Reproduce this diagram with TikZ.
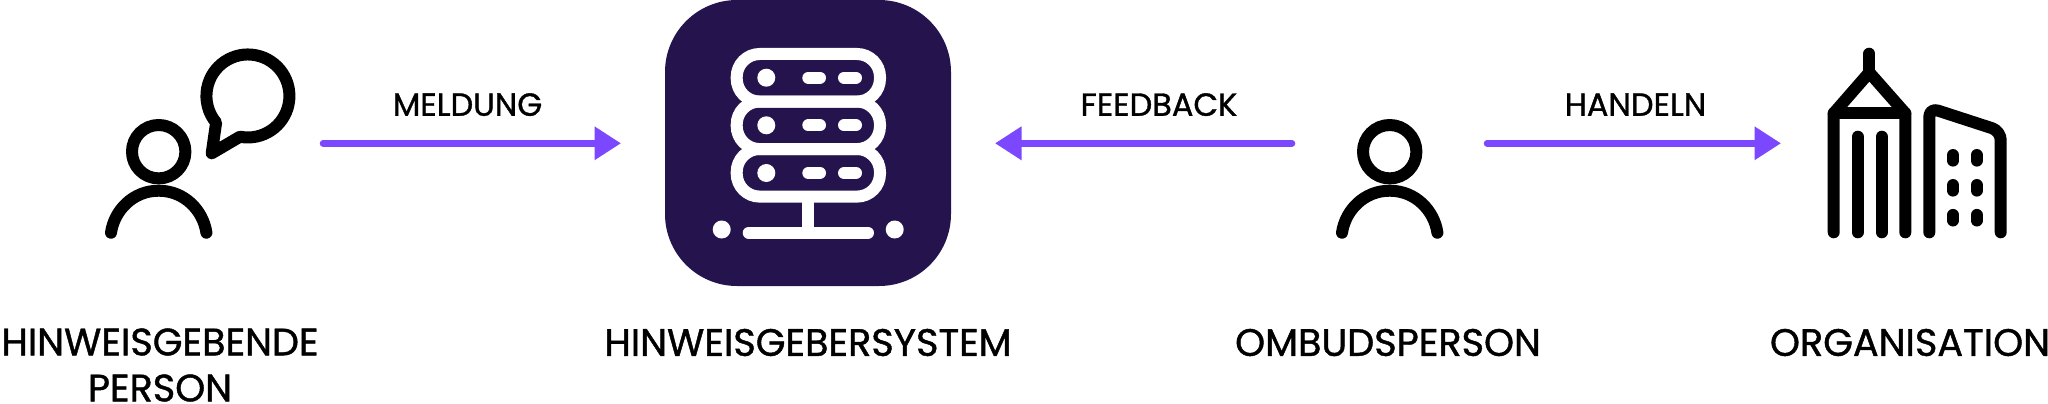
\documentclass[tikz,border=0pt]{standalone}
\usepackage{fontspec}
\setmainfont{Poppins}
\newfontfamily\etikett{Poppins}[FakeBold=1.1]
\usetikzlibrary{arrows.meta}
\definecolor{pfeil}{HTML}{7B47FF}
\definecolor{dunkel}{HTML}{24134D}
\tikzset{>={Triangle[length=26.5pt,width=32pt]}}
\tikzset{
    linie/.style = {line width=12pt, line cap=round, line join=round},
    pfeillinie/.style = {->, pfeil, line width=6.5pt, line cap=round},
    titel/.style = {font=\etikett\fontsize{38.2}{46}\selectfont, align=center, inner sep=0pt},
    klein/.style = {font=\etikett\fontsize{32}{38}\selectfont, inner sep=0pt},
    person/.pic = {
        \draw[linie] (0,0) circle (26.7);
        \draw[linie] (-47.7,81) .. controls (-44.5,59) and (-26,39) .. (0,39)
            .. controls (26,39) and (44.5,59) .. (47.7,81);
    }
}

\begin{document}
\begin{tikzpicture}[x=1pt, y=-1pt]
    \useasboundingbox (0,0) rectangle (2048,404);

    % Personen
    \pic at (158.7,151.7) {person};
    \pic at (1389.7,151.7) {person};

    % Sprechblase
    \draw[linie] (240,136.7) arc (101:-220:41.5) -- (211.7,153.3) -- cycle;

    % System
    \node (system) at (808,143) [fill=dunkel, rounded corners=72pt, minimum width=286pt, minimum height=286pt, inner sep=0pt] {};
    \foreach \y in {54,101.5,149} {
        \draw[white, line width=12pt, rounded corners=23pt] (736.7,\y) rectangle (880,\y+47.6);
    }
    \foreach \y in {77.7,125.3,173} {
        \fill[white] (766.3,\y) circle (9);
        \draw[linie, white] (808.3,\y) -- (820,\y);
        \draw[linie, white] (844,\y) -- (856,\y);
    }
    \draw[white, line width=12pt] (808.3,197) -- (808.3,232.7);
    \draw[linie, white] (748.7,232.7) -- (868,232.7);
    \fill[white] (721.7,229.5) circle (9);
    \fill[white] (894.7,229.5) circle (9);

    % Organisation
    \draw[linie] (1833.7,232.3) -- (1833.7,113.3) -- (1869.3,72.5) -- (1905.3,113.3) -- (1905.3,232.3);
    \draw[linie] (1833.7,113.3) -- (1905.3,113.3);
    \draw[linie] (1869.3,53.7) -- (1869.3,72.5);
    \draw[linie] (1857.7,136.7) -- (1857.7,232.3);
    \draw[linie] (1881.7,136.7) -- (1881.7,232.3);
    \draw[linie, rounded corners=9pt] (1929.3,232.3) -- (1929.3,107.8) -- (2000.7,131) -- (2000.7,232.3);
    \foreach \y in {157.8,187.8,217.7} {
        \draw[linie] (1953,\y-2.8) -- (1953,\y+2.8);
        \draw[linie] (1976.7,\y-2.8) -- (1976.7,\y+2.8);
    }

    % Pfeile
    \coordinate (meldungA) at (323,143.3);
    \coordinate (meldungB) at (621,143.3);
    \coordinate (feedbackA) at (1292,143.3);
    \coordinate (feedbackB) at (995,143.3);
    \coordinate (handelnA) at (1487,143.3);
    \coordinate (handelnB) at (1781,143.3);
    \draw[pfeillinie] (meldungA) -- (meldungB);
    \draw[pfeillinie] (feedbackA) -- (feedbackB);
    \draw[pfeillinie] (handelnA) -- (handelnB);

    \node (meldung) at (467.5,104.6) [klein] {MELDUNG};
    \node (feedback) at (1159,104.6) [klein] {FEEDBACK};
    \node (handeln) at (1635.5,104.6) [klein] {HANDELN};

    \node (hinweisgebende) at (160,365) [titel] {HINWEISGEBENDE\\PERSON};
    \node (hinweissystem) at (808,342.5) [titel] {HINWEISGEBERSYSTEM};
    \node (ombudsperson) at (1388,342.5) [titel] {OMBUDSPERSON};
    \node (organisation) at (1910,342.5) [titel] {ORGANISATION};
\end{tikzpicture}
\end{document}
